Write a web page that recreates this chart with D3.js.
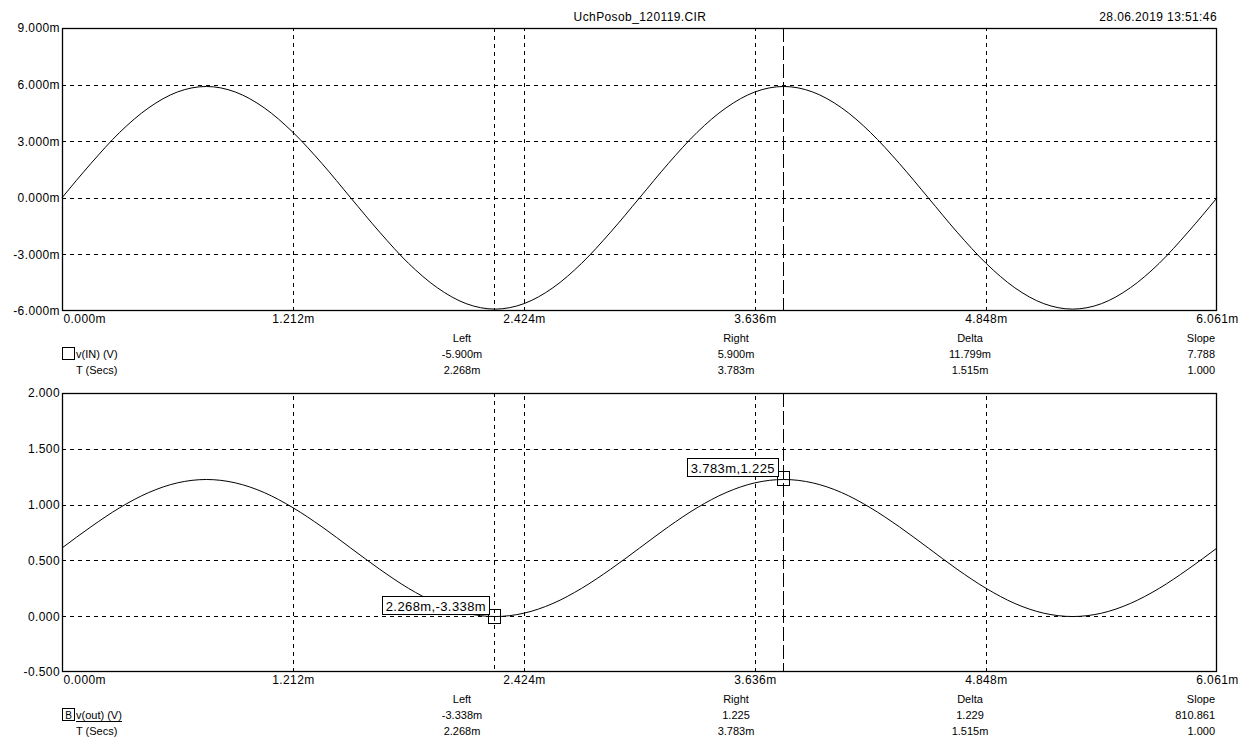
<!DOCTYPE html>
<html><head><meta charset="utf-8">
<script src="https://cdn.jsdelivr.net/npm/d3@7"></script>
<style>
body{margin:0;background:#fff;}
text{font-family:"Liberation Sans",Arial,sans-serif;font-size:11px;fill:#000;}
.big{font-size:12px;letter-spacing:0.4px;}
.tick text{font-family:"Liberation Sans",Arial,sans-serif;font-size:12px;letter-spacing:0.4px;fill:#000;}
.mk{font-size:13px;letter-spacing:0.4px;}
line{shape-rendering:crispEdges;}
</style></head>
<body><svg id="c" width="1242" height="740"></svg>
<script>
// time samples (ms)
const timeMs = [0,0.152,0.303,0.455,0.606,0.758,0.909,1.061,1.212,1.364,1.515,1.667,1.818,1.970,2.121,2.273,2.424,2.576,2.727,2.879,3.031,3.182,3.333,3.485,3.636,3.788,3.939,4.091,4.242,4.394,4.546,4.697,4.849,5.000,5.152,5.303,5.455,5.606,5.758,5.909,6.061];
// v(IN) in mV
const vIn = [0,1.82,3.47,4.77,5.61,5.90,5.61,4.77,3.47,1.82,0,-1.82,-3.47,-4.77,-5.61,-5.90,-5.61,-4.77,-3.47,-1.82,0,1.82,3.47,4.77,5.61,5.90,5.61,4.77,3.47,1.82,0,-1.82,-3.47,-4.77,-5.61,-5.90,-5.61,-4.77,-3.47,-1.82,0];
// v(out) in V
const vOut = [0.611,0.801,0.972,1.108,1.195,1.225,1.195,1.108,0.972,0.801,0.611,0.421,0.250,0.114,0.027,-0.003,0.027,0.114,0.250,0.421,0.611,0.801,0.972,1.108,1.195,1.225,1.195,1.108,0.972,0.801,0.611,0.421,0.250,0.114,0.027,-0.003,0.027,0.114,0.250,0.421,0.611];

const xTicks = [0,1.212,2.424,3.636,4.848,6.061];
const xTickLabels = ["0.000m","1.212m","2.424m","3.636m","4.848m","6.061m"];
const yTicksTop = [-6,-3,0,3,6,9];
const yTickLabelsTop = ["-6.000m","-3.000m","0.000m","3.000m","6.000m","9.000m"];
const yTicksBot = [-0.5,0,0.5,1,1.5,2];
const yTickLabelsBot = ["-0.500","0.000","0.500","1.000","1.500","2.000"];

const cursorLeft = 2.268, cursorRight = 3.783;
const tableHeaders = ["Left","Right","Delta","Slope"];
const topRow1 = ["-5.900m","5.900m","11.799m","7.788"];
const topRow2 = ["2.268m","3.783m","1.515m","1.000"];
const botRow1 = ["-3.338m","1.225","1.229","810.861"];
const botRow2 = ["2.268m","3.783m","1.515m","1.000"];
const title = "UchPosob_120119.CIR";
const dateStr = "28.06.2019 13:51:46";
const botMarkers = [{t:2.268, v:-0.003338, label:"2.268m,-3.338m"},{t:3.783, v:1.225, label:"3.783m,1.225"}];

const svg = d3.select("#c");
const L = 62, R = 1217;
const x = d3.scaleLinear().domain([0,6.061]).range([L,R]);

svg.append("text").attr("class","big").attr("x",640).attr("y",21).attr("text-anchor","middle").text(title);
svg.append("text").attr("class","big").attr("x",1217).attr("y",21).attr("text-anchor","end").text(dateStr);

function panel(top,bottom,yDom,yT,yTL,series,row1,row2,legendLabel,legendB){
  const y = d3.scaleLinear().domain(yDom).range([bottom,top]);
  const g = svg.append("g");
  const gy = g.append("g").attr("transform",`translate(${L},0)`)
    .call(d3.axisLeft(y).tickValues(yT.slice(1,-1)).tickSize(-(R-L)).tickFormat(""));
  gy.select(".domain").remove();
  gy.selectAll("line").attr("stroke","#000").attr("stroke-dasharray","4,4");
  const gx = g.append("g").attr("transform",`translate(0,${bottom})`)
    .call(d3.axisBottom(x).tickValues(xTicks.slice(1,-1)).tickSize(-(bottom-top)).tickFormat(""));
  gx.select(".domain").remove();
  gx.selectAll("line").attr("stroke","#000").attr("stroke-dasharray","4,4");
  const cl = Math.round(x(cursorLeft))+0.5, cr = Math.round(x(cursorRight))+0.5;
  g.append("line").attr("x1",cl).attr("x2",cl).attr("y1",top).attr("y2",bottom)
    .attr("stroke","#000").attr("stroke-dasharray","4,4");
  g.append("line").attr("x1",cr).attr("x2",cr).attr("y1",top).attr("y2",bottom)
    .attr("stroke","#000").attr("stroke-dasharray","14,4");
  const line = d3.line().x((d,i)=>x(timeMs[i])).y(d=>y(d)).curve(d3.curveMonotoneX);
  g.append("path").datum(series).attr("d",line).attr("fill","none").attr("stroke","#000").attr("stroke-width",1);
  g.append("rect").attr("x",L+0.5).attr("y",top+0.5).attr("width",R-L-1).attr("height",bottom-top-1)
    .attr("fill","none").attr("stroke","#000").attr("stroke-width",1.3);
  const ya = g.append("g").attr("transform",`translate(${L-2},0)`)
    .call(d3.axisLeft(y).tickValues(yT).tickSize(0).tickPadding(0).tickFormat((d,i)=>yTL[i]));
  ya.select(".domain").remove();
  const xa = g.append("g").attr("transform",`translate(0,${bottom})`)
    .call(d3.axisBottom(x).tickValues(xTicks).tickSize(0).tickPadding(3).tickFormat((d,i)=>xTickLabels[i]));
  xa.select(".domain").remove();
  xa.selectAll("text").attr("text-anchor",(d,i)=> i===0?"start":"middle").attr("dx",(d,i)=> i===0?1:0);
  const colX = [462,736,970,1215];
  const colA = ["middle","middle","middle","end"];
  [tableHeaders,row1,row2].forEach((row,r)=>{
    row.forEach((s,c)=>{
      g.append("text").attr("x",colX[c]).attr("y",bottom+31+r*16).attr("text-anchor",colA[c]).text(s);
    });
  });
  g.append("rect").attr("x",L+0.5).attr("y",bottom+36.5).attr("width",12).attr("height",12).attr("fill","#fff").attr("stroke","#000");
  if(legendB){
    g.append("text").attr("x",L+6.5).attr("y",bottom+46.5).attr("text-anchor","middle").style("font-size","10px").text("B");
  }
  const lt = g.append("text").attr("x",L+14).attr("y",bottom+47).text(legendLabel);
  if(legendB){
    g.append("line").attr("x1",L+14).attr("x2",L+14+lt.node().getComputedTextLength()).attr("y1",bottom+49.5).attr("y2",bottom+49.5).attr("stroke","#000");
  }
  g.append("text").attr("x",L+14).attr("y",bottom+63).text("T (Secs)");
  return {y,g};
}

panel(28,311,[-6,9],yTicksTop,yTickLabelsTop,vIn,topRow1,topRow2,"v(IN) (V)",false);
const bp = panel(393,672,[-0.5,2],yTicksBot,yTickLabelsBot,vOut,botRow1,botRow2,"v(out) (V)",true);

botMarkers.forEach(m=>{
  const px = x(m.t), py = bp.y(m.v);
  bp.g.append("rect").attr("x",Math.round(px)-5.5).attr("y",Math.round(py)-7.5).attr("width",12).attr("height",14).attr("fill","none").attr("stroke","#000");
  const box = bp.g.append("rect");
  const t = bp.g.append("text").attr("class","mk").attr("text-anchor","end")
    .attr("x",Math.round(px)-8).attr("y",Math.round(py)-6).text(m.label);
  const bb = t.node().getBBox();
  box.attr("x",Math.round(bb.x)-3.5).attr("y",Math.round(py)-20.5).attr("width",Math.round(bb.width)+7).attr("height",18)
    .attr("fill","#fff").attr("stroke","#000");
});
</script></body></html>
